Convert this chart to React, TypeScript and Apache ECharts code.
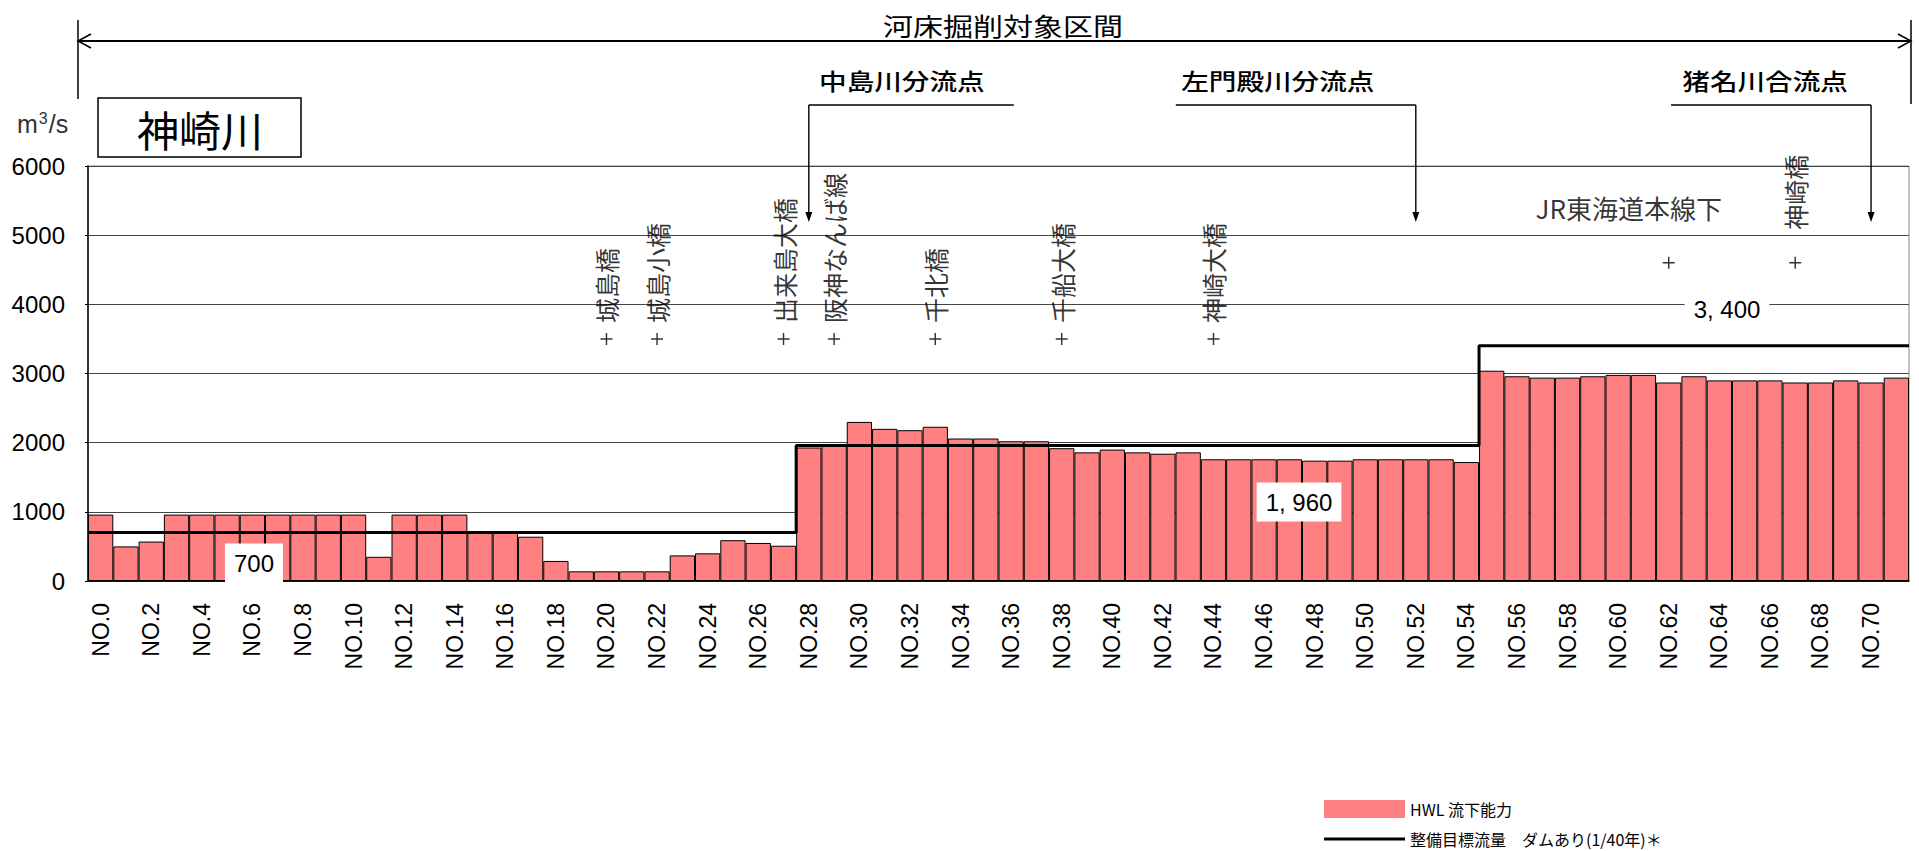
import React, { useEffect, useRef } from 'react';
import * as echarts from 'echarts';

// ---- data ----
const hwlCapacity = [
  960, 500, 570, 960, 960, 960, 960, 960, 960, 960,
  960, 350, 960, 960, 960, 700, 700, 640, 290, 140,
  140, 140, 140, 370, 400, 590, 550, 510, 1930, 1960,
  2300, 2200, 2180, 2230, 2060, 2060, 2020, 2020, 1920, 1860,
  1900, 1860, 1840, 1860, 1760, 1760, 1760, 1760, 1740, 1740,
  1760, 1760, 1760, 1760, 1720, 3040, 2960, 2940, 2940, 2960,
  2980, 2980, 2870, 2960, 2900, 2900, 2900, 2870, 2870, 2900,
  2870, 2940,
];
const stationLabels = hwlCapacity.map((_, i) => `NO.${i}`);

const targetFlows = [700, 1960, 3400];
const targetStartStation = [0, 28, 55];

const bridgeNames = ['城島橋', '城島小橋', '出来島大橋', '阪神なんば線', '千北橋', '千船大橋', '神崎大橋', 'JR東海道本線下', '神崎橋'];
const bridgeStations = [20, 22, 27, 29, 33, 38, 44, 62, 67];
const bridgeLevels = [3500, 3500, 3500, 3500, 3500, 3500, 3500, 4600, 4600];

const junctionNames = ['中島川分流点', '左門殿川分流点', '猪名川合流点'];
const junctionStations = [28, 52, 70];

const yTicks = { min: 0, max: 6000, interval: 1000 };

const riverName = '神崎川';
const sectionTitle = '河床掘削対象区間';
const barName = 'HWL 流下能力';
const lineName = '整備目標流量　ダムあり(1/40年)＊';

// ---- helpers ----
const CJK = "'Noto Sans CJK JP', 'Noto Sans', sans-serif";
const LAT = "'Liberation Sans', Arial, sans-serif";

function fmt(v: number) {
  if (v < 1000) return String(v);
  return `${Math.floor(v / 1000)}, ${String(v % 1000).padStart(3, '0')}`;
}

function stepLine() {
  const pts: number[][] = [];
  targetFlows.forEach((f, i) => {
    const s = targetStartStation[i];
    const e = i + 1 < targetStartStation.length ? targetStartStation[i + 1] : hwlCapacity.length;
    pts.push([s, f], [e, f]);
  });
  return pts;
}

const PLUS = 'path://M4.4,0H5.6V10H4.4ZM0,4.4H10V5.6H0Z';
const LINE_ICON = 'path://M0,0H100V4H0Z';

function bridgeLabel(name: string) {
  if (name === 'JR東海道本線下') {
    return { show: true, formatter: '{b}', position: 'top', distance: 36, offset: [-40, 0], fontSize: 26, color: '#000', fontFamily: CJK };
  }
  return {
    show: true, formatter: '{b}', position: 'top', distance: name === '神崎橋' ? 27 : 10,
    rotate: 90, align: 'left', verticalAlign: 'middle', fontSize: 25, color: '#000', fontFamily: CJK,
  };
}

function buildGraphic(ax: number[]) {
  const els: any[] = [];
  const stroke = (w: number) => ({ stroke: '#000', lineWidth: w, fill: 'none' });
  // section span arrow
  els.push({ type: 'line', shape: { x1: 78, y1: 41, x2: 1911, y2: 41 }, style: stroke(2) });
  els.push({ type: 'polyline', shape: { points: [[91, 34], [78, 41], [91, 48]] }, style: stroke(1.5) });
  els.push({ type: 'polyline', shape: { points: [[1898, 34], [1911, 41], [1898, 48]] }, style: stroke(1.5) });
  els.push({ type: 'line', shape: { x1: 78, y1: 20, x2: 78, y2: 99 }, style: stroke(1.5) });
  els.push({ type: 'line', shape: { x1: 1911, y1: 20, x2: 1911, y2: 104 }, style: stroke(1.5) });
  els.push({ type: 'text', x: 1003, y: 25, scaleX: 1.2, style: { text: sectionTitle, fontSize: 25, fontFamily: CJK, fill: '#000', align: 'center', verticalAlign: 'middle' } });

  // junction arrows
  const side = [1, -1, -1];
  const len = [205, 240, 200];
  const txtOff = [93, -138, -106];
  ax.forEach((x, i) => {
    const x2 = x + side[i] * len[i];
    els.push({ type: 'line', shape: { x1: Math.min(x, x2), y1: 105, x2: Math.max(x, x2), y2: 105 }, style: stroke(1.6) });
    els.push({ type: 'line', shape: { x1: x, y1: 105, x2: x, y2: 216 }, style: stroke(1.4) });
    els.push({ type: 'polygon', shape: { points: [[x - 3.5, 212], [x + 3.5, 212], [x, 222]] }, style: { fill: '#000' } });
    els.push({ type: 'text', x: x + txtOff[i], y: 80, scaleX: 1.2, style: { text: junctionNames[i], fontSize: 23, fontFamily: CJK, fill: '#000', align: 'center', verticalAlign: 'middle', fontWeight: 500 } });
  });

  // unit
  els.push({
    type: 'text', x: 17, y: 124,
    style: {
      text: '{a|m}{s|3}{a|/s}', align: 'left', verticalAlign: 'middle',
      rich: {
        a: { fontSize: 25, fontFamily: LAT, fill: '#333', color: '#333' },
        s: { fontSize: 16, fontFamily: LAT, fill: '#333', color: '#333', verticalAlign: 'top', padding: [0, 1, 12, 1] },
      },
    },
  });
  // river name box
  els.push({ type: 'rect', shape: { x: 98, y: 98, width: 203, height: 59 }, style: { fill: '#fff', stroke: '#000', lineWidth: 1.5 } });
  els.push({ type: 'text', x: 200, y: 128, style: { text: riverName, fontSize: 42, fontFamily: CJK, fill: '#000', align: 'center', verticalAlign: 'middle' } });

  // target flow value labels
  const pos = [[254, 563], [1299, 502], [1727, 309]];
  targetFlows.forEach((f, i) => {
    els.push({
      type: 'text', x: pos[i][0], y: pos[i][1], z: 100,
      style: { text: fmt(f), fontSize: 24, fontFamily: LAT, fill: '#000', align: 'center', verticalAlign: 'middle', backgroundColor: '#fff', padding: [8, 9, 7, 9] },
    });
  });
  return els;
}

export default function App() {
  const ref = useRef<HTMLDivElement>(null);
  useEffect(() => {
    if (!ref.current) return;
    const chart = echarts.init(ref.current, undefined, { renderer: 'svg' });
    const option: any = {
      animation: false,
      backgroundColor: '#fff',
      textStyle: { fontFamily: CJK },
      grid: { left: 88, right: 10, top: 166, bottom: 270, show: true, borderColor: '#888', borderWidth: 1, containLabel: false },
      legend: {
        orient: 'vertical', left: 1324, top: 800, padding: 0, itemWidth: 81, itemHeight: 18, itemGap: 13,
        selectedMode: false,
        textStyle: { fontSize: 16, color: '#000', fontFamily: CJK },
        data: [
          { name: barName, icon: 'rect', itemStyle: { borderWidth: 0, color: '#FF8080' } },
          { name: lineName, icon: LINE_ICON, itemStyle: { color: '#000', borderWidth: 0 } },
        ],
      },
      xAxis: [
        {
          type: 'category', data: stationLabels, boundaryGap: true,
          axisLine: { lineStyle: { color: '#000', width: 1.5 } },
          axisTick: { show: false },
          axisLabel: { interval: 1, rotate: 90, margin: 22, fontSize: 23, fontFamily: LAT, color: '#000' },
        },
        { type: 'value', min: 0, max: hwlCapacity.length, show: false },
      ],
      yAxis: {
        type: 'value', min: yTicks.min, max: yTicks.max, interval: yTicks.interval,
        axisLine: { show: true, lineStyle: { color: '#000', width: 1.5 } },
        axisTick: { show: true, length: 3, lineStyle: { color: '#000' } },
        axisLabel: { margin: 23, fontSize: 24, fontFamily: LAT, color: '#000', formatter: (v: number) => String(v) },
        splitLine: { lineStyle: { color: '#444', width: 1 } },
      },
      series: [
        {
          name: barName, type: 'bar', xAxisIndex: 0, data: hwlCapacity, barCategoryGap: '0%',
          itemStyle: { color: '#FF8080', borderColor: '#000', borderWidth: 1 }, z: 2,
        },
        {
          name: lineName, type: 'line', xAxisIndex: 1, data: stepLine(), symbol: 'none',
          lineStyle: { color: '#000', width: 3 }, itemStyle: { color: '#000' }, z: 3,
        },
        {
          name: 'bridges', type: 'scatter', xAxisIndex: 0, symbol: PLUS, symbolSize: 12,
          itemStyle: { color: '#000' }, z: 4,
          data: bridgeNames.map((name, i) => ({ name, value: [bridgeStations[i], bridgeLevels[i]], label: bridgeLabel(name) })),
        },
      ],
    };
    chart.setOption(option);
    const ax = junctionStations.map((s) => chart.convertToPixel({ xAxisIndex: 0 }, s) as number);
    chart.setOption({ graphic: buildGraphic(ax) });
    return () => chart.dispose();
  }, []);
  return <div ref={ref} style={{ position: 'fixed', left: 0, top: 0, width: '1919px', height: '851px' }} />;
}
